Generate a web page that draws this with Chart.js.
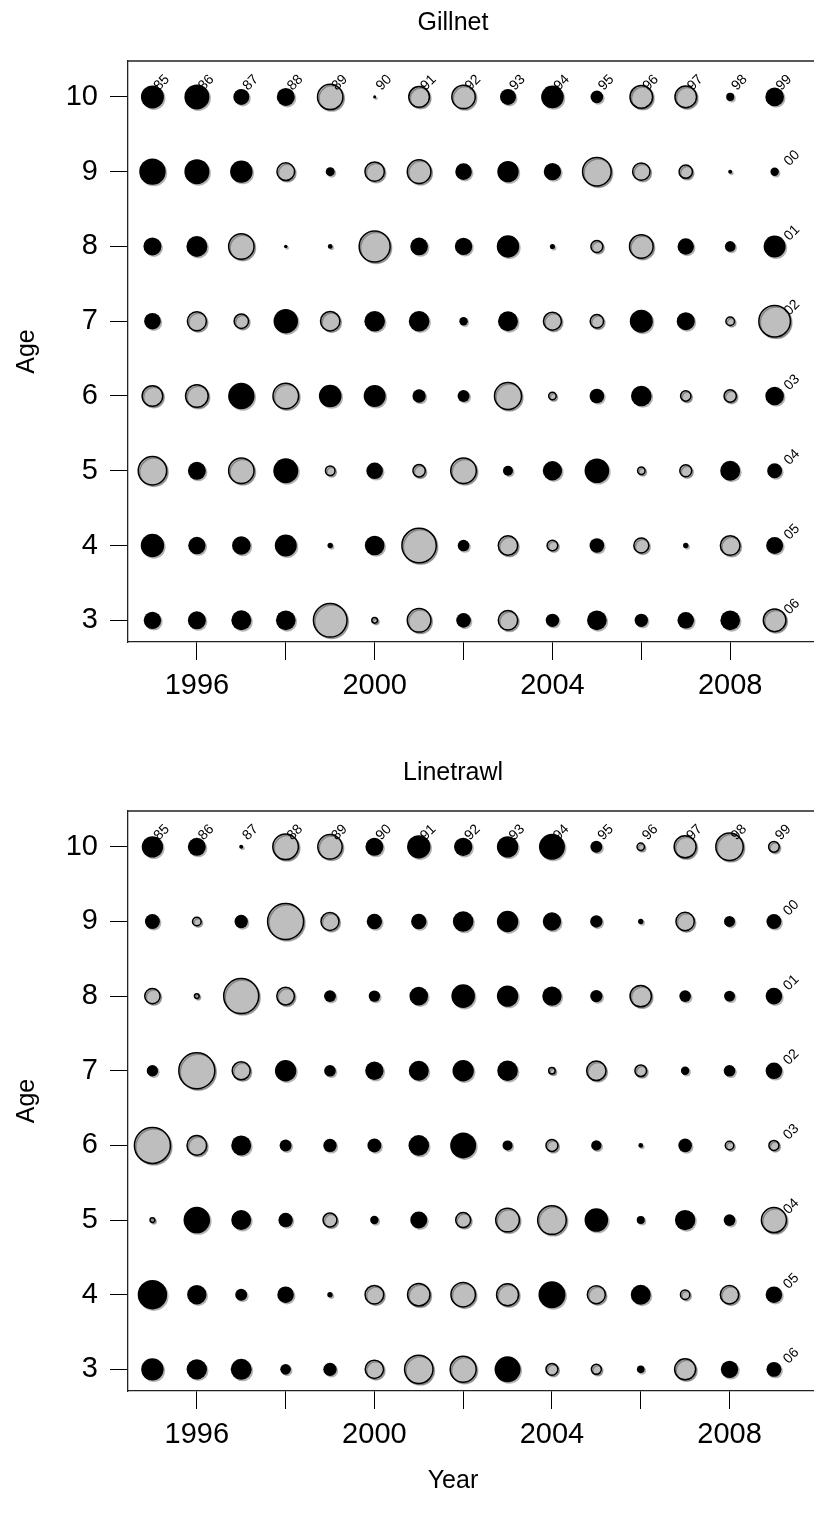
<!DOCTYPE html>
<html>
<head>
<meta charset="utf-8">
<title>Residuals by age and year</title>
<script src="https://cdn.jsdelivr.net/npm/chart.js@4/dist/chart.umd.min.js"></script>
<style>
  html, body { margin: 0; padding: 0; background: #fff; width: 814px; height: 1522px; overflow: hidden; }
  #wrap { position: relative; width: 814px; height: 1522px; overflow: hidden; }
  canvas { position: absolute; left: 0; }
</style>
</head>
<body>
<div id="wrap">
  <canvas id="gillnet" width="860" height="750" style="top:0px"></canvas>
  <canvas id="linetrawl" width="860" height="772" style="top:750px"></canvas>
</div>
<script>
// Survey years and ages shown on the axes
const YEARS = [1995, 1996, 1997, 1998, 1999, 2000, 2001, 2002, 2003, 2004, 2005, 2006, 2007, 2008, 2009];
const AGES = [3, 4, 5, 6, 7, 8, 9, 10];
const YEAR_TICKS = [1996, 1998, 2000, 2002, 2004, 2006, 2008];
const YEAR_LABELS = [1996, 2000, 2004, 2008];

// Gillnet residuals, one array per age (years 1995-2009)
const gill10 = [1.63, 1.93, 0.79, 1.00, -1.99, 0.03, -1.31, -1.69, 0.79, 1.58, 0.49, -1.58, -1.44, 0.20, 1.07];
const gill9  = [2.15, 1.93, 1.55, -0.96, 0.25, -1.16, -1.72, 0.85, 1.41, 0.93, -2.52, -0.93, -0.55, 0.05, 0.22];
const gill8  = [1.00, 1.36, -1.99, 0.04, 0.07, -2.97, 0.96, 0.93, 1.55, 0.08, -0.44, -1.72, 0.83, 0.35, 1.49];
const gill7  = [0.85, -1.11, -0.64, 1.84, -1.16, 1.31, 1.31, 0.22, 1.23, -1.00, -0.55, 1.63, 1.00, -0.23, -3.08];
const gill6  = [-1.31, -1.58, 2.15, -2.02, 1.58, 1.49, 0.55, 0.44, -2.25, -0.17, 0.66, 1.31, -0.33, -0.47, 1.07];
const gill5  = [-2.49, 1.00, -1.99, 1.93, -0.28, 0.85, -0.47, -2.02, 0.31, 1.16, 1.87, -0.17, -0.44, 1.23, 0.69];
const gill4  = [1.69, 0.93, 1.07, 1.49, 0.09, 1.19, -3.65, 0.42, -1.16, -0.35, 0.66, -0.69, 0.09, -1.19, 0.89];
const gill3  = [0.93, 1.00, 1.23, 1.19, -3.48, -0.10, -1.72, 0.66, -1.16, 0.55, 1.19, 0.55, 0.85, 1.19, -1.58];

// Linetrawl residuals, one array per age (years 1995-2009)
const line10 = [1.41, 1.00, 0.05, -2.02, -1.84, 1.00, 1.69, 1.04, 1.41, 2.09, 0.44, -0.17, -1.49, -2.32, -0.35];
const line9  = [0.69, -0.23, 0.55, -4.00, -1.00, 0.73, 0.73, 1.31, 1.41, 1.04, 0.47, 0.09, -1.04, 0.37, 0.69];
const line8  = [-0.73, -0.07, -3.78, -0.96, 0.44, 0.40, 1.07, 1.72, 1.41, 1.16, 0.47, -1.41, 0.42, 0.37, 0.85];
const line7  = [0.40, -4.00, -1.00, 1.41, 0.42, 1.04, 1.23, 1.41, 1.31, -0.13, -1.16, -0.42, 0.22, 0.42, 0.85];
const line6  = [-4.00, -1.19, 1.23, 0.44, 0.55, 0.60, 1.31, 2.09, 0.31, -0.44, 0.33, 0.07, 0.57, -0.22, -0.31];
const line5  = [-0.07, 2.18, 1.23, 0.64, -0.60, 0.22, 0.89, -0.69, -1.72, -2.52, 1.72, 0.20, 1.28, 0.42, -1.93];
const line4  = [2.67, 1.16, 0.44, 0.85, 0.09, -1.07, -1.55, -1.84, -1.49, 2.25, -1.00, 1.23, -0.27, -1.04, 0.85];
const line3  = [1.55, 1.28, 1.36, 0.35, 0.55, -1.04, -2.49, -2.09, 2.09, -0.44, -0.31, 0.18, -1.36, 0.93, 0.69];

// Rows ordered to match AGES
const GILLNET_ROWS = [gill3, gill4, gill5, gill6, gill7, gill8, gill9, gill10];
const LINETRAWL_ROWS = [line3, line4, line5, line6, line7, line8, line9, line10];

const FONT = '"Liberation Sans", Arial, Helvetica, sans-serif';
const POS_FILL = '#000000';
const NEG_FILL = '#bebebe';
const BUBBLE_SCALE = 9;   // radius in px = BUBBLE_SCALE * sqrt(|residual|)

function toPoints(rows) {
  const pts = [];
  rows.forEach((row, i) => {
    row.forEach((v, j) => {
      pts.push({ x: YEARS[j], y: AGES[i], r: BUBBLE_SCALE * Math.sqrt(Math.abs(v)), v: v });
    });
  });
  return pts;
}

function cohortLabel(yr) {
  return String(yr % 100).padStart(2, '0');
}

// Frame, title, axis caption and cohort labels
const decorPlugin = {
  id: 'decor',
  beforeDatasetDraw(chart) {
    const ctx = chart.ctx;
    ctx.shadowColor = 'rgba(0,0,0,0.30)';
    ctx.shadowOffsetX = 1.5;
    ctx.shadowOffsetY = 1.5;
    ctx.shadowBlur = 0;
  },
  afterDatasetDraw(chart) {
    const ctx = chart.ctx;
    ctx.shadowColor = 'rgba(0,0,0,0)';
    ctx.shadowOffsetX = 0;
    ctx.shadowOffsetY = 0;
  },
  afterDraw(chart, args, opts) {
    const ctx = chart.ctx;
    const a = chart.chartArea;
    const xs = chart.scales.x, ys = chart.scales.y;
    ctx.save();
    // top and right edges of the box
    ctx.strokeStyle = '#222';
    ctx.lineWidth = 1.3;
    ctx.beginPath();
    ctx.moveTo(a.left, a.top);
    ctx.lineTo(a.right, a.top);
    ctx.lineTo(a.right, a.bottom);
    ctx.stroke();

    ctx.fillStyle = '#000';
    ctx.textAlign = 'center';
    ctx.textBaseline = 'middle';
    ctx.font = opts.titleSize + 'px ' + FONT;
    ctx.fillText(opts.title, opts.titleX, opts.titleY);
    if (opts.xTitle) {
      ctx.font = opts.xTitleSize + 'px ' + FONT;
      ctx.fillText(opts.xTitle, opts.titleX, opts.xTitleY);
    }

    // cohort (year class) labels along the top row and the right column
    ctx.font = '14px ' + FONT;
    ctx.textAlign = 'left';
    ctx.textBaseline = 'alphabetic';
    const topAge = AGES[AGES.length - 1];
    const lastYear = YEARS[YEARS.length - 1];
    YEARS.forEach(yr => {
      const px = xs.getPixelForValue(yr + 0.15);
      const py = ys.getPixelForValue(topAge + 0.08);
      ctx.save();
      ctx.translate(px, py);
      ctx.rotate(-Math.PI / 4);
      ctx.fillText(cohortLabel(yr - topAge), 0, 0);
      ctx.restore();
    });
    AGES.slice(0, AGES.length - 1).forEach(age => {
      const px = xs.getPixelForValue(lastYear + 0.33);
      const py = ys.getPixelForValue(age + 0.07);
      ctx.save();
      ctx.translate(px, py);
      ctx.rotate(-Math.PI / 4);
      ctx.fillText(cohortLabel(lastYear - age), 0, 0);
      ctx.restore();
    });
    ctx.restore();
  }
};

function makeChart(id, title, rows, canvasH, plotBottom, xTitle) {
  const tickFont = { family: FONT, size: 29 };
  return new Chart(document.getElementById(id), {
    type: 'bubble',
    data: {
      datasets: [{
        data: toPoints(rows),
        backgroundColor: c => (c.raw && c.raw.v < 0) ? NEG_FILL : POS_FILL,
        borderColor: '#000',
        borderWidth: c => (c.raw && c.raw.v < 0) ? 1.5 : 0,
        hoverRadius: 0
      }]
    },
    options: {
      responsive: false,
      animation: false,
      devicePixelRatio: 1,
      events: [],
      layout: { padding: { top: 61, right: 11, left: 0, bottom: 0 } },
      plugins: {
        legend: { display: false },
        tooltip: { enabled: false },
        decor: {
          title: title, titleX: 453, titleY: 23, titleSize: 25,
          xTitle: xTitle, xTitleY: canvasH - 41, xTitleSize: 25
        }
      },
      scales: {
        x: {
          type: 'linear',
          min: 1994.45,
          max: 2010.5,
          afterBuildTicks: s => { s.ticks = YEAR_TICKS.map(v => ({ value: v })); },
          afterFit: s => { s.height = canvasH - plotBottom; },
          ticks: {
            font: tickFont, color: '#000', padding: 9, maxRotation: 0, autoSkip: false,
            callback: v => YEAR_LABELS.includes(v) ? String(v) : ''
          },
          grid: { drawOnChartArea: false, drawTicks: true, tickLength: 18, color: '#000', lineWidth: 1 },
          border: { display: true, color: '#222', width: 1.3 }
        },
        y: {
          type: 'linear',
          min: 2.71,
          max: 10.48,
          afterBuildTicks: s => { s.ticks = AGES.map(v => ({ value: v })); },
          afterFit: s => { s.width = 128; },
          ticks: { font: tickFont, color: '#000', padding: 12, autoSkip: false, callback: v => String(v) },
          grid: { drawOnChartArea: false, drawTicks: true, tickLength: 18, color: '#000', lineWidth: 1 },
          border: { display: true, color: '#222', width: 1.3 },
          title: { display: true, text: 'Age', color: '#000', font: { family: FONT, size: 25 }, padding: { top: 12, bottom: 0 } }
        }
      }
    },
    plugins: [decorPlugin]
  });
}

makeChart('gillnet', 'Gillnet', GILLNET_ROWS, 750, 642, null);
makeChart('linetrawl', 'Linetrawl', LINETRAWL_ROWS, 772, 641, 'Year');
</script>
</body>
</html>
